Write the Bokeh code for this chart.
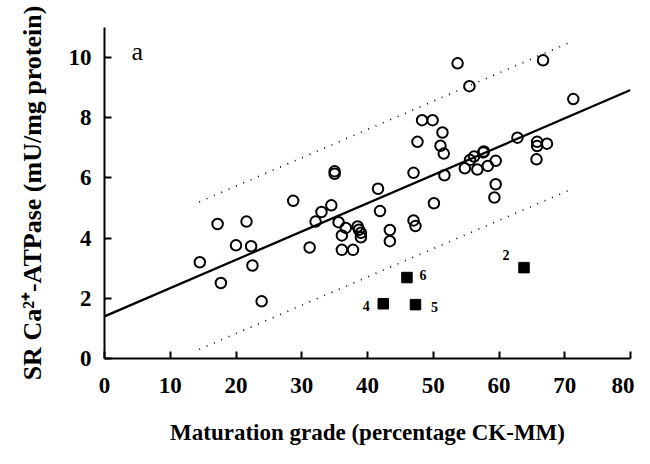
from bokeh.plotting import figure
from bokeh.models import Range1d, FixedTicker, Label, ColumnDataSource
from bokeh.embed import file_html
from bokeh.resources import INLINE
from bokeh.core.properties import value

# ---- data ----
grade = [14.5, 17.2, 17.7, 20.0, 21.6, 22.3, 22.5, 23.9, 28.7, 31.2, 32.1, 33.0,
         34.5, 35.0, 35.0, 35.6, 36.1, 36.1, 36.7, 37.8, 38.5, 38.7, 39.0, 39.0,
         41.6, 41.9, 43.4, 43.4, 47.0, 47.0, 47.3, 47.6, 48.3, 49.9, 50.1, 51.1,
         51.4, 51.6, 51.7, 53.7, 54.8, 55.5, 55.6, 56.2, 56.7, 57.6, 57.7, 58.3,
         59.5, 59.5, 59.3, 62.8, 65.8, 65.8, 65.7, 66.7, 67.3, 71.3]
atpase = [3.20, 4.47, 2.51, 3.76, 4.55, 3.73, 3.09, 1.90, 5.24, 3.69, 4.55, 4.87,
          5.09, 6.22, 6.14, 4.53, 4.09, 3.61, 4.34, 3.61, 4.39, 4.28, 4.18, 4.03,
          5.64, 4.90, 4.27, 3.90, 6.17, 4.59, 4.40, 7.20, 7.92, 7.92, 5.16, 7.07,
          7.51, 6.81, 6.09, 9.81, 6.32, 9.05, 6.60, 6.71, 6.28, 6.85, 6.88, 6.40,
          6.57, 5.79, 5.35, 7.34, 7.20, 7.06, 6.62, 9.91, 7.14, 8.62]

patient_grade = [63.8, 46.0, 42.4, 47.3]
patient_atpase = [3.02, 2.69, 1.82, 1.79]
patient_label = ["2", "6", "4", "5"]

reg_intercept = 1.40
reg_slope = 0.094
band_halfwidth = 2.45
band_x = [14.4, 70.7]
line_x = [0, 80]

x_ticks = [0, 10, 20, 30, 40, 50, 60, 70, 80]
y_ticks = [0, 2, 4, 6, 8, 10]

FONT = "Liberation Serif"

p = figure(width=634, height=448, output_backend="svg", toolbar_location=None,
           x_range=Range1d(0, 80), y_range=Range1d(0, 11),
           min_border_left=104, min_border_right=4, min_border_top=27, min_border_bottom=90)
p.outline_line_color = None
p.grid.visible = False
p.background_fill_color = "white"
p.border_fill_color = "white"

for ax in (p.xaxis[0], p.yaxis[0]):
    ax.axis_line_width = 2
    ax.axis_line_color = "black"
    ax.major_tick_in = 7
    ax.major_tick_out = 0
    ax.major_tick_line_width = 2
    ax.minor_tick_line_color = None
    ax.major_label_text_font = FONT
    ax.major_label_text_font_style = "bold"
    ax.major_label_text_font_size = "23px"
    ax.major_label_text_color = "black"
    ax.axis_label_text_font = FONT
    ax.axis_label_text_font_style = "bold"
    ax.axis_label_text_color = "black"

p.xaxis.axis_label_text_font_size = "23px"
p.yaxis.axis_label_text_font_size = "26px"

p.xaxis.ticker = FixedTicker(ticks=x_ticks)
p.yaxis.ticker = FixedTicker(ticks=y_ticks)
p.xaxis.axis_label = "Maturation grade (percentage CK-MM)"
p.yaxis.axis_label = "SR Ca²⁺-ATPase (mU/mg protein)"
p.xaxis.major_label_standoff = 19
p.xaxis.axis_label_standoff = 24
p.yaxis.major_label_standoff = 13
p.yaxis.axis_label_standoff = 19

# regression line and band
ly = [reg_intercept + reg_slope * x for x in line_x]
p.line(line_x, ly, line_color="black", line_width=2.2)
up = [reg_intercept + reg_slope * x + band_halfwidth for x in band_x]
lo = [reg_intercept + reg_slope * x - band_halfwidth for x in band_x]
p.line(band_x, up, line_color="black", line_width=1.6, line_dash="1 7")
p.line(band_x, lo, line_color="black", line_width=1.6, line_dash="1 7")

# data points
p.scatter(grade, atpase, marker="circle", size=10.5, fill_color=None,
          line_color="black", line_width=2)

src = ColumnDataSource(dict(x=patient_grade, y=patient_atpase, t=patient_label,
                            dx=[-18, 16, -17, 19], dy=[-13, -3, 2, 2]))
p.scatter("x", "y", source=src, marker="square", size=10.5, fill_color="black",
          line_color="black")
p.text("x", "y", text="t", source=src, x_offset="dx", y_offset="dy",
       text_font=value(FONT), text_font_style="bold", text_font_size="14px",
       text_align="center", text_baseline="middle", text_color="black")

p.add_layout(Label(x=5.0, y=10.2, text="a", text_font=FONT, text_font_size="26px",
                   text_align="center", text_baseline="middle", text_color="black"))

open("out.html", "w").write(file_html(p, INLINE))
